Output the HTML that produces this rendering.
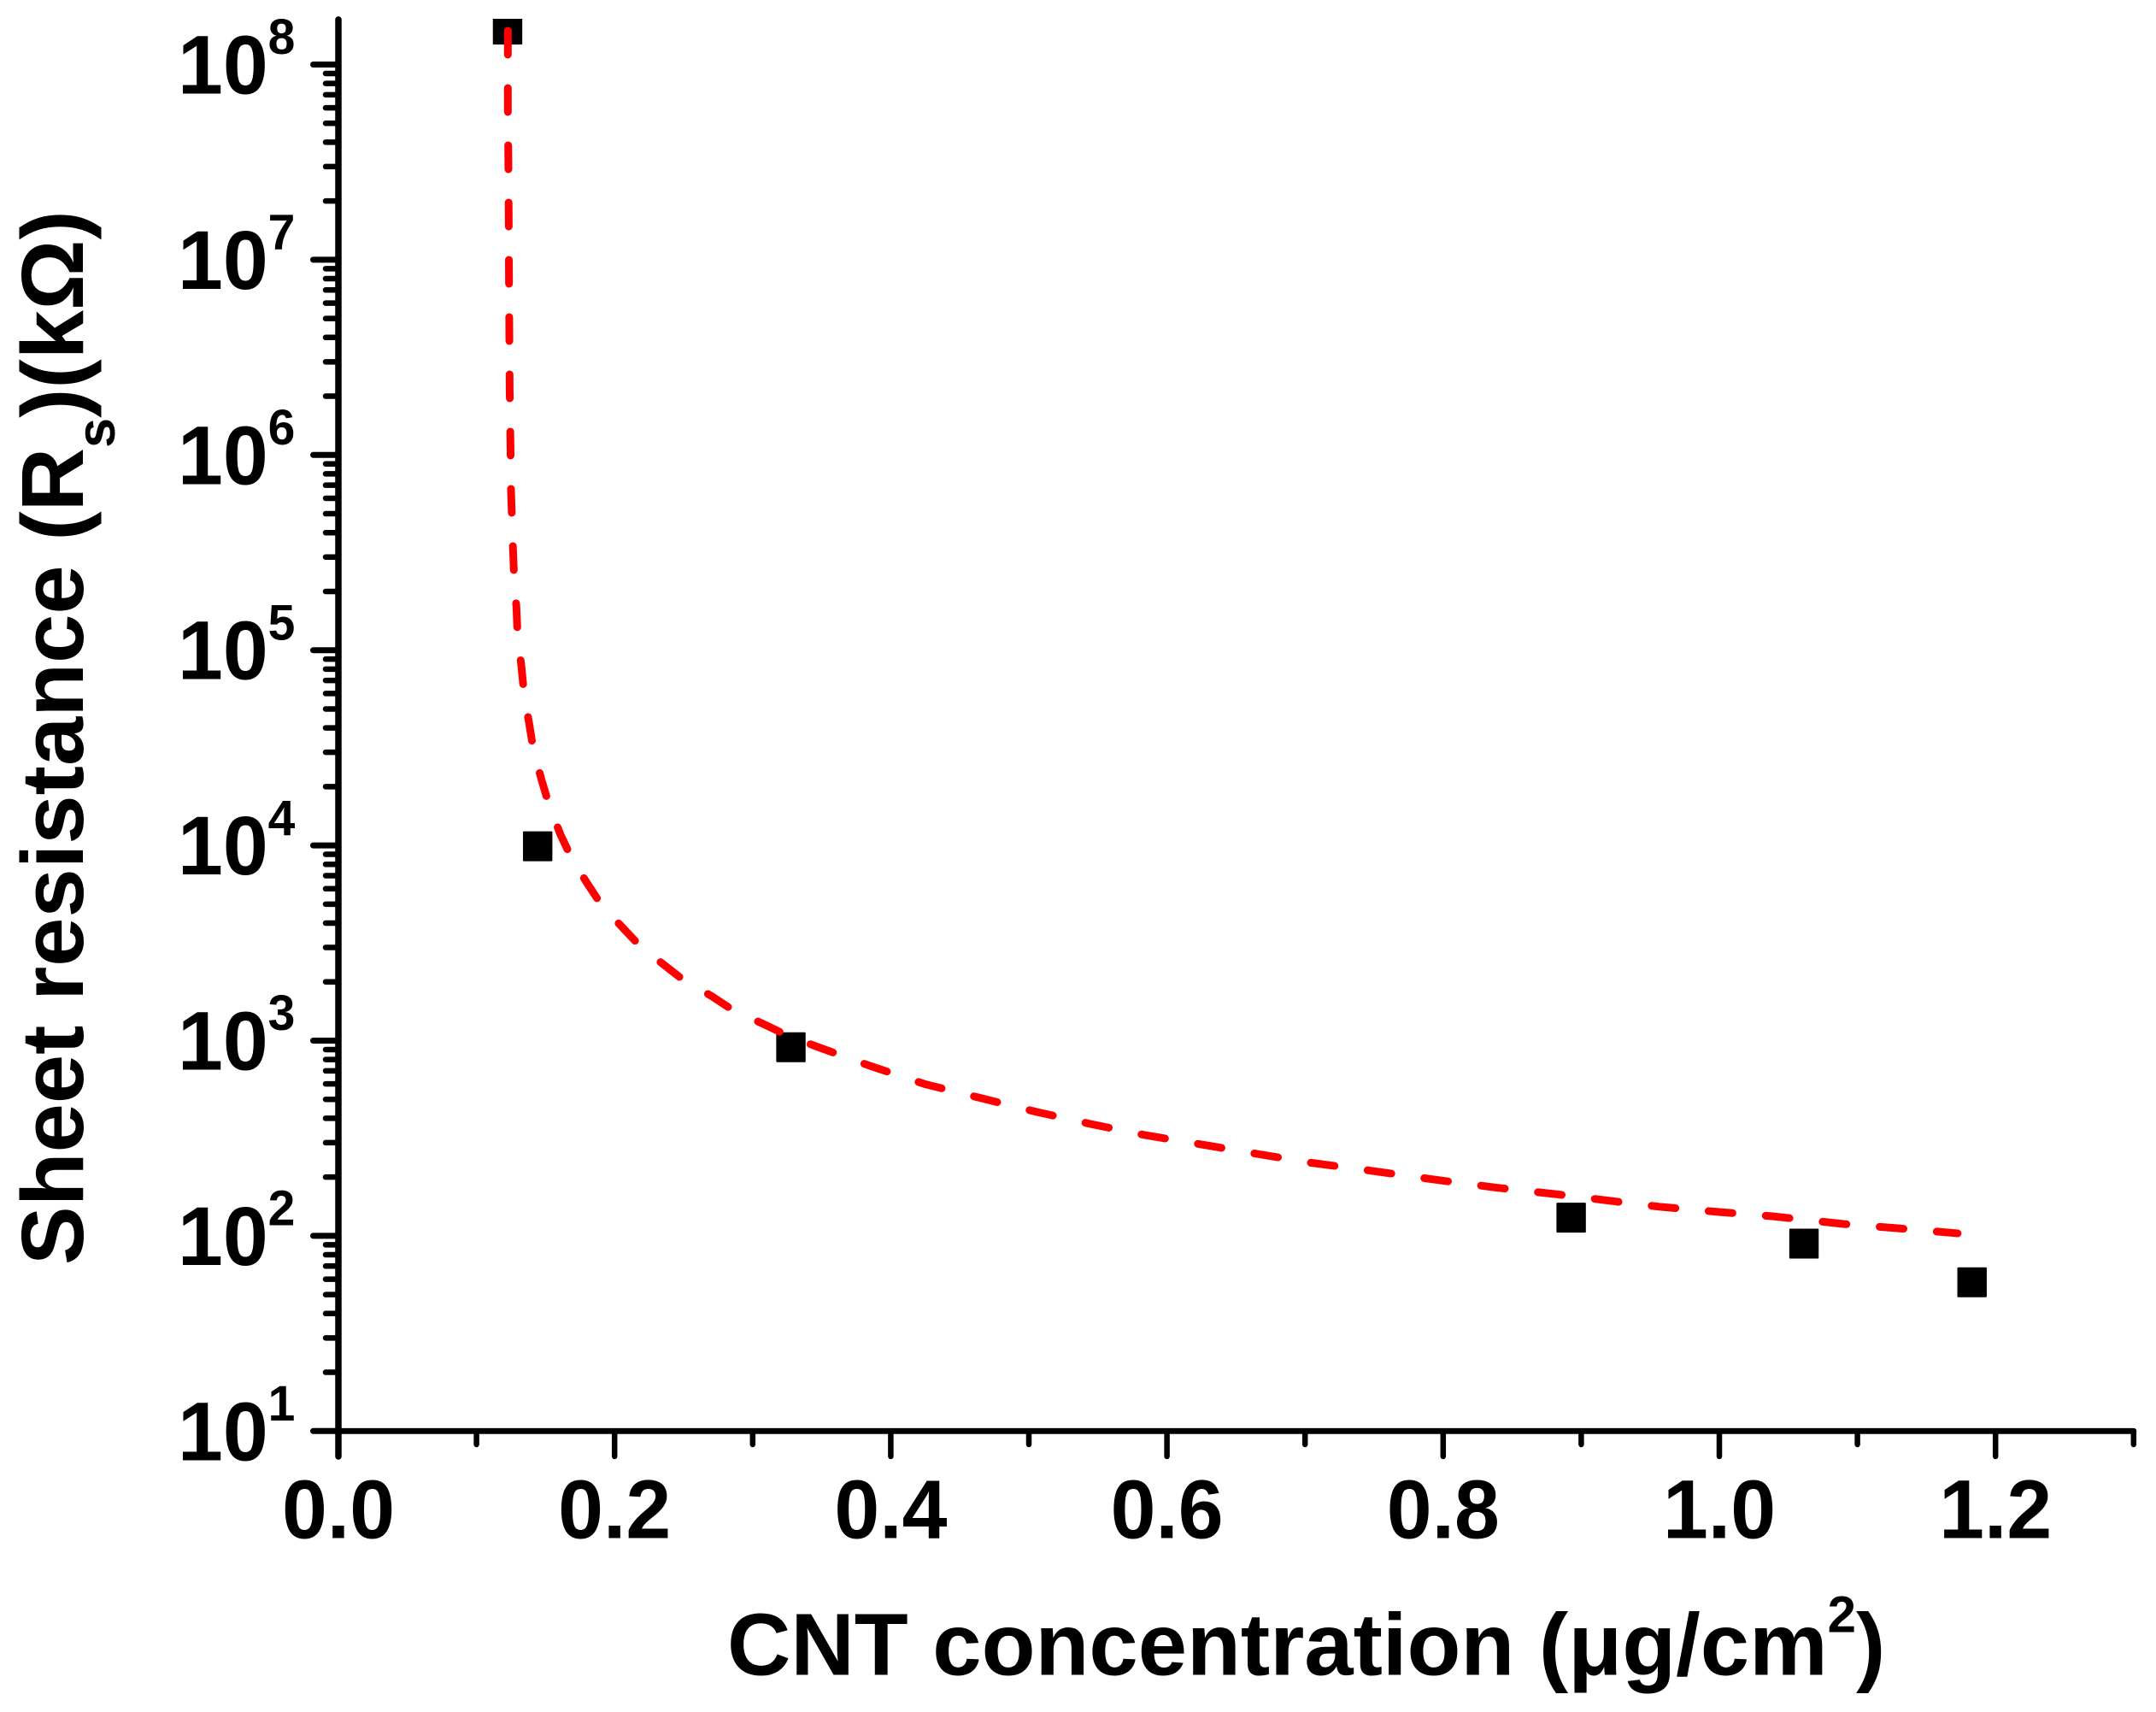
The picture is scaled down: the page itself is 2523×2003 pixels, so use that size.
<!DOCTYPE html>
<html lang="en">
<head>
<meta charset="utf-8">
<title>Sheet resistance vs CNT concentration</title>
<style>
  html, body { margin: 0; padding: 0; background: #ffffff; }
  svg { display: block; }
  text { font-family: "Liberation Sans", Arial, sans-serif; font-weight: bold; fill: #000000; }
</style>
</head>
<body>
<svg id="chart" xmlns="http://www.w3.org/2000/svg" width="2523" height="2003" viewBox="0 0 2523 2003">
  <rect x="0" y="0" width="2523" height="2003" fill="#ffffff"/>
  <defs>
    <clipPath id="plot-clip"><rect x="396" y="22" width="2103" height="1653"/></clipPath>
  </defs>
  <g id="axes"></g>
  <g id="markers" clip-path="url(#plot-clip)"></g>
  <g id="fit"></g>
  <g id="labels"></g>
  <text x="851" y="1959.3" font-size="103">CNT concentration (μg/cm<tspan font-size="60" dy="-50">2</tspan><tspan dy="50">)</tspan></text>
  <text transform="translate(97,1480) rotate(-90)" x="0" y="0" font-size="103">Sheet resistance (R<tspan font-size="63" dy="37">s</tspan><tspan dy="-37">)(kΩ)</tspan></text>
</svg>
<script>
// ---- chart data ----
const pointX = [0.1225, 0.1443, 0.3277, 0.8927, 1.0613, 1.183];
const pointRs = [1.51e8, 9.9e3, 925, 124, 91.2, 57.8];

const fitX = [0.1227, 0.1227, 0.1231, 0.1233, 0.1235, 0.1240, 0.1246, 0.1250, 0.1264, 0.1273,
  0.1289, 0.1298, 0.1324, 0.1345, 0.1382, 0.1413, 0.1473, 0.1527, 0.1609, 0.1692,
  0.1804, 0.1910, 0.2060, 0.2183, 0.2353, 0.2486, 0.2704, 0.2865, 0.3088, 0.3255,
  0.3473, 0.3853, 0.4243, 0.4641, 0.5058, 0.5450, 0.5842, 0.6262, 0.6652, 0.7038,
  0.7450, 0.7966, 0.8375, 0.8829, 0.9249, 0.9564, 0.9969, 1.0384, 1.0897, 1.1318, 1.1726];
const fitRs = [1.489e8, 5.77e7, 3.155e7, 1.687e7, 8.50e6, 2.18e6, 1.10e6, 6.57e5, 3.31e5, 2.30e5,
  1.667e5, 1.159e5, 8.40e4, 5.90e4, 4.20e4, 3.055e4, 2.148e4, 1.592e4, 1.133e4, 8.51e3,
  6.36e3, 4.89e3, 3.78e3, 3.055e3, 2.46e3, 2.075e3, 1.687e3, 1.42e3, 1.208e3, 1.059e3,
  927, 741, 600, 510, 431, 374, 328, 293, 263, 237,
  217, 193, 177, 163, 150, 141, 133, 126, 115, 109, 103];

const xMajorTicks = [0.0, 0.2, 0.4, 0.6, 0.8, 1.0, 1.2];
const xMajorLabels = ["0.0", "0.2", "0.4", "0.6", "0.8", "1.0", "1.2"];
const xMinorTicks = [0.1, 0.3, 0.5, 0.7, 0.9, 1.1, 1.3];
const yExponents = [1, 2, 3, 4, 5, 6, 7, 8];
const yMinorMultipliers = [2, 3, 4, 5, 6, 7, 8, 9];
const yMaxValue = 1.70e8;
const xMaxValue = 1.3;

// ---- axis functions ----
function xScale(v) { return 396 + 1616 * v; }
function yScale(v) { return 1674.3 - 228.4 * (Math.log10(v) - 1); }

const NS = "http://www.w3.org/2000/svg";
const axes = document.getElementById("axes");
const markers = document.getElementById("markers");
const fit = document.getElementById("fit");
const labels = document.getElementById("labels");

function makeLine(x1, y1, x2, y2, w) {
  const l = document.createElementNS(NS, "line");
  l.setAttribute("x1", x1);
  l.setAttribute("y1", y1);
  l.setAttribute("x2", x2);
  l.setAttribute("y2", y2);
  l.setAttribute("stroke", "#000000");
  l.setAttribute("stroke-width", w);
  l.setAttribute("stroke-linecap", "round");
  axes.appendChild(l);
  return l;
}

// axis lines
const yAxisLine = makeLine(xScale(0), yScale(yMaxValue), xScale(0), 1704, 7.5);


const xAxisLine = makeLine(xScale(0), yScale(10), xScale(xMaxValue), yScale(10), 6.8);



// x ticks
xMajorTicks.forEach(function (v, i) {
  const t = makeLine(xScale(v), yScale(10), xScale(v), 1704, 6.5);
  
  
  const label = document.createElementNS(NS, "text");
  label.setAttribute("transform", "translate(" + xScale(v) + ",1799.3) scale(1,1.03)");
  label.setAttribute("font-size", 95);
  label.setAttribute("text-anchor", "middle");
  label.textContent = xMajorLabels[i];
  
  
  labels.appendChild(label);
});
xMinorTicks.forEach(function (v) {
  const t = makeLine(xScale(v), yScale(10), xScale(v), 1690, 6.5);
  
  
});

// y ticks
yExponents.forEach(function (e) {
  const base = Math.pow(10, e);
  const t = makeLine(xScale(0), yScale(base), 366.5, yScale(base), 7);
  
  
  if (e < yExponents[yExponents.length - 1]) {
    yMinorMultipliers.forEach(function (m) {
      const mt = makeLine(xScale(0), yScale(base * m), 381, yScale(base * m), 6.5);
      
      
    });
  }
  const label = document.createElementNS(NS, "text");
  label.setAttribute("transform", "translate(208," + (yScale(base) + 34) + ") scale(1,1.03)");
  label.setAttribute("font-size", 95);
  
  
  const mant = document.createElementNS(NS, "tspan");
  mant.textContent = "10";
  label.appendChild(mant);
  const sup = document.createElementNS(NS, "tspan");
  sup.setAttribute("font-size", 57);
  sup.setAttribute("dy", -45);
  sup.textContent = String(e);
  label.appendChild(sup);
  labels.appendChild(label);
});

// measured points
pointX.forEach(function (v, i) {
  const r = document.createElementNS(NS, "rect");
  r.setAttribute("x", xScale(v) - 17.2);
  r.setAttribute("y", yScale(pointRs[i]) - 17.5);
  r.setAttribute("width", 34.4);
  r.setAttribute("height", 35);
  r.setAttribute("rx", 1);
  r.setAttribute("fill", "#000000");
  
  
  markers.appendChild(r);
});

// fit curve
const d = fitX.map(function (v, i) {
  return (i === 0 ? "M" : "L") + xScale(v).toFixed(1) + " " + yScale(fitRs[i]).toFixed(1);
}).join(" ");
const fitPath = document.createElementNS(NS, "path");
fitPath.setAttribute("d", d);
fitPath.setAttribute("fill", "none");
fitPath.setAttribute("stroke", "#ff0000");
fitPath.setAttribute("stroke-width", 9);
fitPath.setAttribute("stroke-linecap", "round");
fitPath.setAttribute("stroke-linejoin", "round");
fitPath.setAttribute("stroke-dasharray", "28 39");


fit.appendChild(fitPath);
</script>
</body>
</html>
